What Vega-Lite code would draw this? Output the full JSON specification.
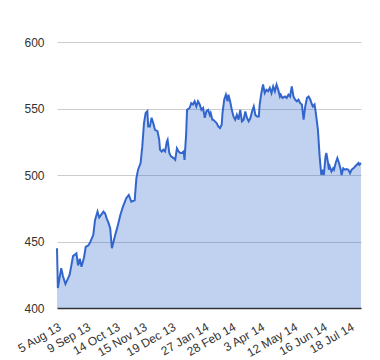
{
  "$schema": "https://vega.github.io/schema/vega-lite/v6.json",
  "width": 304,
  "height": 266,
  "autosize": {"type": "none"},
  "padding": {"left": 57, "top": 42, "right": 19, "bottom": 52},
  "config": {
    "view": {"stroke": null},
    "font": "Liberation Sans",
    "axis": {"labelFont": "Liberation Sans", "labelFontSize": 12, "labelColor": "#333", "titleFont": "Liberation Sans"}
  },
  "data": {"values": [
    {"date": "2013-08-05", "value": 445},
    {"date": "2013-08-06", "value": 415},
    {"date": "2013-08-10", "value": 430},
    {"date": "2013-08-12", "value": 424},
    {"date": "2013-08-15", "value": 418},
    {"date": "2013-08-20", "value": 425},
    {"date": "2013-08-24", "value": 439},
    {"date": "2013-08-28", "value": 441},
    {"date": "2013-08-30", "value": 432},
    {"date": "2013-09-01", "value": 437},
    {"date": "2013-09-03", "value": 431},
    {"date": "2013-09-06", "value": 438},
    {"date": "2013-09-08", "value": 446},
    {"date": "2013-09-11", "value": 447},
    {"date": "2013-09-13", "value": 449},
    {"date": "2013-09-17", "value": 455},
    {"date": "2013-09-19", "value": 466},
    {"date": "2013-09-22", "value": 472.5},
    {"date": "2013-09-24", "value": 468},
    {"date": "2013-09-29", "value": 472.5},
    {"date": "2013-10-01", "value": 471},
    {"date": "2013-10-03", "value": 467},
    {"date": "2013-10-05", "value": 464},
    {"date": "2013-10-07", "value": 460},
    {"date": "2013-10-09", "value": 445},
    {"date": "2013-10-13", "value": 455},
    {"date": "2013-10-16", "value": 462},
    {"date": "2013-10-19", "value": 470},
    {"date": "2013-10-22", "value": 476},
    {"date": "2013-10-26", "value": 482.6},
    {"date": "2013-10-29", "value": 485},
    {"date": "2013-11-01", "value": 480},
    {"date": "2013-11-05", "value": 481},
    {"date": "2013-11-07", "value": 497.6},
    {"date": "2013-11-09", "value": 504},
    {"date": "2013-11-12", "value": 509},
    {"date": "2013-11-14", "value": 521.5},
    {"date": "2013-11-16", "value": 539},
    {"date": "2013-11-18", "value": 546.6},
    {"date": "2013-11-20", "value": 548},
    {"date": "2013-11-21", "value": 536.5},
    {"date": "2013-11-23", "value": 536.5},
    {"date": "2013-11-25", "value": 543},
    {"date": "2013-11-27", "value": 539},
    {"date": "2013-11-29", "value": 534},
    {"date": "2013-12-02", "value": 533},
    {"date": "2013-12-04", "value": 526.5},
    {"date": "2013-12-05", "value": 519},
    {"date": "2013-12-07", "value": 517.7},
    {"date": "2013-12-09", "value": 519},
    {"date": "2013-12-11", "value": 517.7},
    {"date": "2013-12-13", "value": 525},
    {"date": "2013-12-14", "value": 526.5},
    {"date": "2013-12-16", "value": 516.5},
    {"date": "2013-12-18", "value": 514},
    {"date": "2013-12-21", "value": 512.7},
    {"date": "2013-12-23", "value": 511.4},
    {"date": "2013-12-25", "value": 520},
    {"date": "2013-12-27", "value": 517.7},
    {"date": "2013-12-29", "value": 516.5},
    {"date": "2013-12-31", "value": 516.5},
    {"date": "2014-01-02", "value": 517.7},
    {"date": "2014-01-03", "value": 511.4},
    {"date": "2014-01-05", "value": 531.5},
    {"date": "2014-01-06", "value": 549},
    {"date": "2014-01-09", "value": 550.4},
    {"date": "2014-01-11", "value": 554},
    {"date": "2014-01-13", "value": 553},
    {"date": "2014-01-15", "value": 555.4},
    {"date": "2014-01-17", "value": 551.6},
    {"date": "2014-01-19", "value": 555.4},
    {"date": "2014-01-21", "value": 553},
    {"date": "2014-01-23", "value": 549},
    {"date": "2014-01-25", "value": 550.4},
    {"date": "2014-01-27", "value": 543},
    {"date": "2014-01-29", "value": 548},
    {"date": "2014-01-31", "value": 549},
    {"date": "2014-02-02", "value": 545},
    {"date": "2014-02-03", "value": 546.6},
    {"date": "2014-02-05", "value": 541.6},
    {"date": "2014-02-06", "value": 541.6},
    {"date": "2014-02-08", "value": 540.3},
    {"date": "2014-02-10", "value": 539},
    {"date": "2014-02-12", "value": 536.5},
    {"date": "2014-02-14", "value": 535.3},
    {"date": "2014-02-16", "value": 537.8},
    {"date": "2014-02-17", "value": 546.6},
    {"date": "2014-02-19", "value": 556.6},
    {"date": "2014-02-21", "value": 560.4},
    {"date": "2014-02-23", "value": 555.4},
    {"date": "2014-02-24", "value": 560.4},
    {"date": "2014-02-26", "value": 555.4},
    {"date": "2014-02-28", "value": 549},
    {"date": "2014-03-02", "value": 544},
    {"date": "2014-03-04", "value": 541.6},
    {"date": "2014-03-06", "value": 545.3},
    {"date": "2014-03-08", "value": 541.6},
    {"date": "2014-03-10", "value": 549},
    {"date": "2014-03-12", "value": 540.3},
    {"date": "2014-03-14", "value": 541.6},
    {"date": "2014-03-16", "value": 547.8},
    {"date": "2014-03-18", "value": 542.8},
    {"date": "2014-03-20", "value": 540.3},
    {"date": "2014-03-22", "value": 542.8},
    {"date": "2014-03-24", "value": 547.8},
    {"date": "2014-03-26", "value": 551.6},
    {"date": "2014-03-28", "value": 545},
    {"date": "2014-03-30", "value": 544},
    {"date": "2014-04-01", "value": 544},
    {"date": "2014-04-02", "value": 553},
    {"date": "2014-04-04", "value": 561.6},
    {"date": "2014-04-06", "value": 568},
    {"date": "2014-04-08", "value": 561.6},
    {"date": "2014-04-10", "value": 564},
    {"date": "2014-04-12", "value": 563},
    {"date": "2014-04-14", "value": 565.5},
    {"date": "2014-04-16", "value": 561.6},
    {"date": "2014-04-18", "value": 566.6},
    {"date": "2014-04-20", "value": 563},
    {"date": "2014-04-22", "value": 568},
    {"date": "2014-04-24", "value": 564},
    {"date": "2014-04-26", "value": 559},
    {"date": "2014-04-27", "value": 560.4},
    {"date": "2014-04-29", "value": 558},
    {"date": "2014-05-02", "value": 559},
    {"date": "2014-05-04", "value": 558},
    {"date": "2014-05-06", "value": 560.4},
    {"date": "2014-05-08", "value": 559},
    {"date": "2014-05-10", "value": 566.6},
    {"date": "2014-05-12", "value": 559},
    {"date": "2014-05-14", "value": 556.6},
    {"date": "2014-05-16", "value": 555.4},
    {"date": "2014-05-18", "value": 556.6},
    {"date": "2014-05-20", "value": 554},
    {"date": "2014-05-22", "value": 553},
    {"date": "2014-05-24", "value": 541.6},
    {"date": "2014-05-26", "value": 551.6},
    {"date": "2014-05-28", "value": 558},
    {"date": "2014-05-30", "value": 559},
    {"date": "2014-06-01", "value": 556.6},
    {"date": "2014-06-03", "value": 553},
    {"date": "2014-06-04", "value": 551.6},
    {"date": "2014-06-06", "value": 553},
    {"date": "2014-06-07", "value": 549},
    {"date": "2014-06-08", "value": 544},
    {"date": "2014-06-10", "value": 534},
    {"date": "2014-06-11", "value": 524},
    {"date": "2014-06-12", "value": 514},
    {"date": "2014-06-14", "value": 500},
    {"date": "2014-06-16", "value": 504},
    {"date": "2014-06-17", "value": 500},
    {"date": "2014-06-19", "value": 514},
    {"date": "2014-06-20", "value": 516.5},
    {"date": "2014-06-22", "value": 509},
    {"date": "2014-06-23", "value": 504},
    {"date": "2014-06-24", "value": 506.4},
    {"date": "2014-06-26", "value": 502.6},
    {"date": "2014-06-28", "value": 505},
    {"date": "2014-06-29", "value": 504},
    {"date": "2014-07-01", "value": 509},
    {"date": "2014-07-03", "value": 512.7},
    {"date": "2014-07-05", "value": 509},
    {"date": "2014-07-07", "value": 504},
    {"date": "2014-07-08", "value": 500},
    {"date": "2014-07-10", "value": 505},
    {"date": "2014-07-12", "value": 504},
    {"date": "2014-07-14", "value": 504.5},
    {"date": "2014-07-16", "value": 504},
    {"date": "2014-07-18", "value": 501.4},
    {"date": "2014-07-20", "value": 504},
    {"date": "2014-07-22", "value": 505},
    {"date": "2014-07-24", "value": 506.4},
    {"date": "2014-07-26", "value": 507.7},
    {"date": "2014-07-28", "value": 509},
    {"date": "2014-07-29", "value": 507.7},
    {"date": "2014-07-31", "value": 509}
  ]},
  "encoding": {
    "x": {
      "field": "date",
      "type": "temporal",
      "scale": {"type": "utc", "domain": [{"year": 2013, "month": 8, "date": 5, "utc": true}, {"year": 2014, "month": 7, "date": 31, "utc": true}]},
      "axis": {
        "title": null,
        "labelExpr": "utcFormat(datum.value, '%-d %b %y')",
        "values": [
          {"year": 2013, "month": 8, "date": 5, "utc": true},
          {"year": 2013, "month": 9, "date": 9, "utc": true},
          {"year": 2013, "month": 10, "date": 14, "utc": true},
          {"year": 2013, "month": 11, "date": 15, "utc": true},
          {"year": 2013, "month": 12, "date": 19, "utc": true},
          {"year": 2014, "month": 1, "date": 27, "utc": true},
          {"year": 2014, "month": 2, "date": 28, "utc": true},
          {"year": 2014, "month": 4, "date": 3, "utc": true},
          {"year": 2014, "month": 5, "date": 12, "utc": true},
          {"year": 2014, "month": 6, "date": 16, "utc": true},
          {"year": 2014, "month": 7, "date": 18, "utc": true}
        ],
        "labelAngle": -30,
        "labelAlign": "right",
        "labelBaseline": "top",
        "labelPadding": 13,
        "labelOverlap": false,
        "labelFlush": false,
        "ticks": false,
        "grid": false,
        "domain": true,
        "domainColor": "#333",
        "domainWidth": 1.5
      }
    },
    "y": {
      "field": "value",
      "type": "quantitative",
      "scale": {"domain": [400, 600], "nice": false, "zero": false},
      "axis": {
        "title": null,
        "values": [400, 450, 500, 550, 600],
        "ticks": false,
        "domain": false,
        "grid": true,
        "gridColor": "#ccc",
        "labelPadding": 13
      }
    }
  },
  "layer": [
    {
      "mark": {"type": "area", "color": "#3366cc", "opacity": 0.3},
      "encoding": {"y2": {"datum": 400}}
    },
    {
      "mark": {"type": "line", "color": "#3366cc", "strokeWidth": 2}
    }
  ]
}
